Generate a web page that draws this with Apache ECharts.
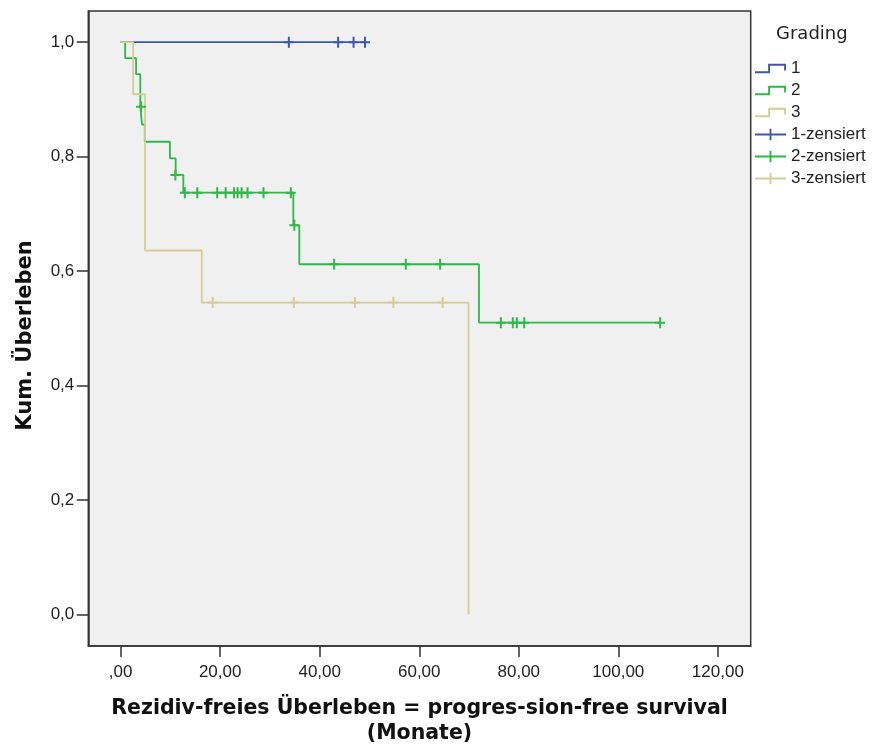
<!DOCTYPE html>
<html><head><meta charset="utf-8">
<script src="https://cdn.jsdelivr.net/npm/echarts@6/dist/echarts.min.js"></script>
<style>html,body{margin:0;padding:0;background:#fff}#c{width:873px;height:751px}</style>
</head><body><div id="c"></div>
<script>
// ---- data ----
const xTicks = [0, 20, 40, 60, 80, 100, 120];
const yTicks = [0, 0.2, 0.4, 0.6, 0.8, 1.0];
const groupNames = ['1', '2', '3'];
const censorNames = ['1-zensiert', '2-zensiert', '3-zensiert'];
const legendTitle = 'Grading';
const xTitle = 'Rezidiv-freies Überleben = progres-sion-free survival\n(Monate)';
const yTitle = 'Kum. Überleben';

// Kaplan-Meier step curves: time (months) and survival after each step
const g1Times = [0, 49.1];
const g1Surv  = [1.0, 1.0];
const g2Times = [0, 0.9, 3.1, 3.95, 4.3, 4.85, 9.9, 11.05, 12.6, 34.7, 35.9, 72.0, 108.4];
const g2Surv  = [1.0, 0.972, 0.944, 0.887, 0.856, 0.826, 0.797, 0.768, 0.737, 0.680, 0.612, 0.510, 0.510];
const g3Times = [0, 2.5, 4.9, 16.3, 69.9];
const g3Surv  = [1.0, 0.909, 0.636, 0.545, 0.0];

// censored observations
const c1Times = [33.8, 43.7, 46.8, 49.1];
const c1Surv  = [1.0, 1.0, 1.0, 1.0];
const c2Times = [4.1, 11.0, 12.9, 15.4, 19.4, 21.1, 22.8, 23.5, 24.3, 25.5, 28.7, 34.2, 34.9, 42.9, 57.3, 64.2, 76.4, 78.8, 79.6, 81.1, 108.4];
const c2Surv  = [0.887, 0.768, 0.737, 0.737, 0.737, 0.737, 0.737, 0.737, 0.737, 0.737, 0.737, 0.737, 0.680, 0.612, 0.612, 0.612, 0.510, 0.510, 0.510, 0.510, 0.510];
const c3Times = [18.5, 34.8, 47.1, 54.8, 64.7];
const c3Surv  = [0.545, 0.545, 0.545, 0.545, 0.545];

// ---- styling ----
const colors = ['#3E58AC', '#2EB848', '#D3CE97'];
const pair = (t, s) => t.map((v, i) => [v, s[i]]);
const curves = [pair(g1Times, g1Surv), pair(g2Times, g2Surv), pair(g3Times, g3Surv)];
const censors = [pair(c1Times, c1Surv), pair(c2Times, c2Surv), pair(c3Times, c3Surv)];

const plusPath = 'path://M4,0 H6 V4.5 H10 V6.5 H6 V11 H4 V6.5 H0 V4.5 H4 Z';
const stepIcon = 'path://M0,9 H14 V1 H33 V8 H31 V3 H16 V11 H0 Z';
const censorIcon = 'path://M0,5 H15.5 V0 H17.5 V5 H33 V7 H17.5 V12 H15.5 V7 H0 Z';
const tickFont = 'Liberation Sans, Arial, sans-serif';
const titleFont = 'DejaVu Sans, sans-serif';

const series = [];
curves.forEach((d, i) => series.push({
  name: groupNames[i], type: 'line', step: 'end', data: d,
  showSymbol: false, symbol: 'none', color: colors[i],
  lineStyle: { color: colors[i], width: 1.8 }, itemStyle: { color: colors[i] },
  animation: false, z: 2 + i
}));
censors.forEach((d, i) => series.push({
  name: censorNames[i], type: 'scatter', data: d,
  symbol: plusPath, symbolSize: [10, 11], color: colors[i],
  itemStyle: { color: colors[i], opacity: 1 },
  animation: false, z: 6 + i
}));

const legendData = groupNames.map((n, i) => ({ name: n, icon: stepIcon, itemStyle: { color: colors[i], borderWidth: 0 } }))
  .concat(censorNames.map((n, i) => ({ name: n, icon: censorIcon, itemStyle: { color: colors[i], borderWidth: 0 } })));

const axisColor = '#333';
const chart = echarts.init(document.getElementById('c'), null, { renderer: 'canvas' });
chart.setOption({
  backgroundColor: '#fff',
  animation: false,
  title: {
    text: legendTitle, left: 776, top: 25, padding: 0,
    textStyle: { fontFamily: titleFont, fontWeight: 'normal', fontSize: 18, color: '#222' }
  },
  legend: {
    orient: 'vertical', left: 755, top: 60, padding: 0,
    itemWidth: 31, itemHeight: 12, itemGap: 5,
    selectedMode: false,
    data: legendData,
    textStyle: { fontFamily: tickFont, fontSize: 17, color: '#222' }
  },
  grid: {
    left: 88.3, top: 11, right: 122.3, bottom: 101.7,
    show: true, backgroundColor: '#F0F0F0', borderColor: axisColor, borderWidth: 1.5,
    containLabel: false
  },
  xAxis: {
    type: 'value', min: -6.5, max: 126.6,
    name: xTitle, nameLocation: 'middle', nameGap: 50,
    nameTextStyle: { fontFamily: titleFont, fontWeight: 'bold', fontSize: 20.5, color: '#111', lineHeight: 25 },
    axisLine: { show: true, onZero: false, lineStyle: { color: axisColor, width: 1.5 } },
    axisTick: { show: true, length: 11, customValues: xTicks, lineStyle: { color: axisColor, width: 1.5 } },
    axisLabel: {
      customValues: xTicks, margin: 18,
      fontFamily: tickFont, fontSize: 17, color: '#222',
      formatter: v => (v === 0 ? ',00' : v.toFixed(2).replace('.', ','))
    },
    splitLine: { show: false }
  },
  yAxis: {
    type: 'value', min: -0.0549, max: 1.0544,
    name: yTitle, nameLocation: 'middle', nameGap: 52, nameRotate: 90,
    nameTextStyle: { fontFamily: titleFont, fontWeight: 'bold', fontSize: 21, color: '#111', padding: [0, 14, 0, 0] },
    axisLine: { show: true, onZero: false, lineStyle: { color: axisColor, width: 1.5 } },
    axisTick: { show: true, length: 11.6, customValues: yTicks, lineStyle: { color: axisColor, width: 1.5 } },
    axisLabel: {
      customValues: yTicks, margin: 14,
      fontFamily: tickFont, fontSize: 17, color: '#222',
      formatter: v => v.toFixed(1).replace('.', ',')
    },
    splitLine: { show: false }
  },
  series: series
});
</script></body></html>
